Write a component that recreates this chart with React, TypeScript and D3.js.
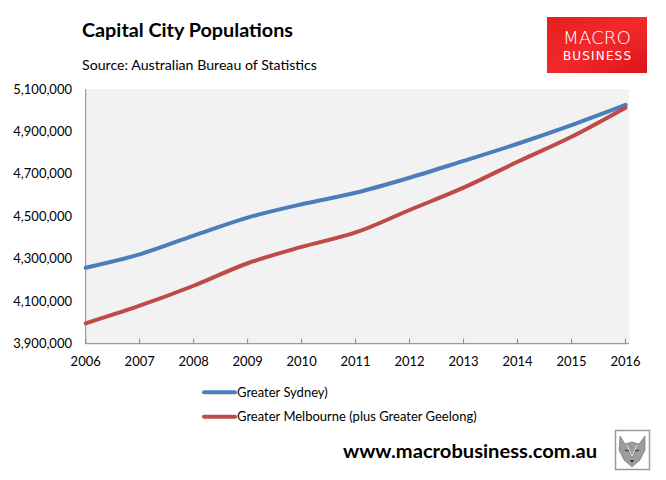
import React, { useEffect, useRef } from "react";
import * as d3 from "d3";

const years = [2006, 2007, 2008, 2009, 2010, 2011, 2012, 2013, 2014, 2015, 2016];
const sydney = [4258000, 4321000, 4409000, 4494000, 4557000, 4611000, 4682000, 4761000, 4842000, 4930000, 5025000];
const melbourne = [3996000, 4079000, 4173000, 4279000, 4356000, 4424000, 4530000, 4635000, 4757000, 4875000, 5012000];
const yTicks = [3900000, 4100000, 4300000, 4500000, 4700000, 4900000, 5100000];
const seriesNames = ["Greater Sydney)", "Greater Melbourne (plus Greater Geelong)"];
const seriesColors = ["#4A7EBB", "#BE4B48"];

const W = 666;
const H = 480;
const FONT = "Lato, 'Open Sans', sans-serif";

export default function App() {
  const ref = useRef<SVGSVGElement>(null);

  useEffect(() => {
    const svg = d3.select(ref.current);
    svg.selectAll("*").remove();

    const x = d3.scaleLinear().domain([2006, 2016]).range([85.7, 625.5]);
    const y = d3.scaleLinear().domain([3900000, 5100000]).range([343.7, 89]);

    // Title and source
    svg.append("text").attr("x", 82).attr("y", 37).attr("font-family", FONT)
      .attr("font-weight", 700).attr("font-size", 19.5).attr("fill", "#000")
      .attr("textLength", 211).attr("lengthAdjust", "spacingAndGlyphs")
      .text("Capital City Populations");
    svg.append("text").attr("x", 82).attr("y", 69.5).attr("font-family", FONT)
      .attr("font-size", 14).attr("fill", "#000")
      .attr("textLength", 235).attr("lengthAdjust", "spacingAndGlyphs")
      .text("Source: Australian Bureau of Statistics");

    // Logo
    const defs = svg.append("defs");
    const grad = defs.append("linearGradient").attr("id", "logoGrad")
      .attr("x1", 0).attr("y1", 0).attr("x2", 1).attr("y2", 1);
    grad.append("stop").attr("offset", "0%").attr("stop-color", "#E41E20");
    grad.append("stop").attr("offset", "50%").attr("stop-color", "#F2292B");
    grad.append("stop").attr("offset", "100%").attr("stop-color", "#D9161A");
    svg.append("rect").attr("x", 547).attr("y", 17).attr("width", 100).attr("height", 56)
      .attr("fill", "url(#logoGrad)");
    svg.append("text").attr("x", 597).attr("y", 44).attr("text-anchor", "middle")
      .attr("font-family", "'DejaVu Sans', sans-serif").attr("font-weight", 300)
      .attr("font-size", 18).attr("fill", "#fff").attr("textLength", 68)
      .attr("lengthAdjust", "spacingAndGlyphs").text("MACRO");
    svg.append("text").attr("x", 597).attr("y", 60).attr("text-anchor", "middle")
      .attr("font-family", "'DejaVu Sans', sans-serif")
      .attr("font-size", 12).attr("fill", "#fff").attr("textLength", 68)
      .attr("lengthAdjust", "spacing").text("BUSINESS");

    // Plot background
    svg.append("rect").attr("x", 85.7).attr("y", 89).attr("width", 629 - 85.7)
      .attr("height", 343.7 - 89).attr("fill", "#F2F2F2");

    // Axes
    svg.append("line").attr("x1", 85.7).attr("x2", 85.7).attr("y1", 89).attr("y2", 344)
      .attr("stroke", "#868686").attr("stroke-width", 1);
    svg.append("line").attr("x1", 85.7).attr("x2", 629).attr("y1", 343.7).attr("y2", 343.7)
      .attr("stroke", "#868686").attr("stroke-width", 1);
    years.forEach((yr) => {
      svg.append("line").attr("x1", x(yr)).attr("x2", x(yr)).attr("y1", 343.7).attr("y2", 338.7)
        .attr("stroke", "#868686").attr("stroke-width", 1);
      svg.append("text").attr("x", x(yr)).attr("y", 366).attr("text-anchor", "middle")
        .attr("font-family", FONT).attr("font-size", 13).attr("fill", "#000").text(String(yr));
    });
    const fmt = d3.format(",");
    yTicks.forEach((v) => {
      svg.append("text").attr("x", 72).attr("y", y(v) + 4.5).attr("text-anchor", "end")
        .attr("font-family", FONT).attr("font-size", 13).attr("fill", "#000").text(fmt(v));
    });

    // Lines
    const line = d3.line<number>()
      .x((_, i) => x(years[i]))
      .y((d) => y(d))
      .curve(d3.curveCatmullRom.alpha(0.5));
    [sydney, melbourne].forEach((s, i) => {
      svg.append("path").attr("d", line(s) as string).attr("fill", "none")
        .attr("stroke", seriesColors[i]).attr("stroke-width", 4).attr("stroke-linecap", "round")
        .attr("stroke-linejoin", "round");
    });

    // Legend
    seriesNames.forEach((name, i) => {
      const ly = 392.3 + i * 24.4;
      svg.append("line").attr("x1", 204).attr("x2", 235).attr("y1", ly).attr("y2", ly)
        .attr("stroke", seriesColors[i]).attr("stroke-width", 4).attr("stroke-linecap", "round");
      svg.append("text").attr("x", 237).attr("y", ly + 4.5).attr("font-family", FONT)
        .attr("font-size", 13).attr("fill", "#000").text(name);
    });

    // Footer
    svg.append("text").attr("x", 343).attr("y", 458).attr("font-family", FONT)
      .attr("font-weight", 700).attr("font-size", 19.5).attr("fill", "#000")
      .attr("textLength", 254).attr("lengthAdjust", "spacingAndGlyphs")
      .text("www.macrobusiness.com.au");

    // Wolf icon
    const g = svg.append("g");
    g.append("rect").attr("x", 615.5).attr("y", 430.5).attr("width", 34).attr("height", 39)
      .attr("fill", "#fff").attr("stroke", "#9a9a9a").attr("stroke-width", 1.5);
    g.append("path")
      .attr("d", "M620,436 L625,444 L632,442 L639,444 L645,436 L645,450 L640,460 L632,467 L624,460 L619,450 Z")
      .attr("fill", "#9c9c9c").attr("stroke", "#6b6b6b").attr("stroke-width", 0.6);
    g.append("path").attr("d", "M625,450 L629,451 M635,451 L639,450")
      .attr("stroke", "#333").attr("stroke-width", 1.2);
    g.append("path").attr("d", "M630,460 L632,463 L634,460 Z").attr("fill", "#333");
    g.append("path").attr("d", "M627,445 L632,456 L637,445").attr("fill", "none")
      .attr("stroke", "#d8d8d8").attr("stroke-width", 1);
  }, []);

  return (
    <svg ref={ref} width={W} height={H}
      style={{ position: "absolute", left: 0, top: 0, background: "#fff" }} />
  );
}
